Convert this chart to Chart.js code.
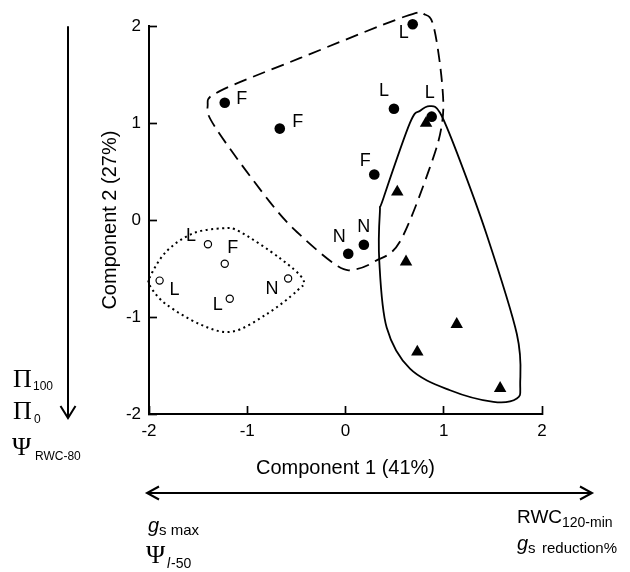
<!DOCTYPE html>
<html lang="en">
<head>
    <meta charset="UTF-8">
    <title>PCA - Component 1 vs Component 2</title>
    <script src="https://cdn.jsdelivr.net/npm/chart.js"></script>
    <style>
        body {
            margin: 0;
            background-color: white;
        }
        #pca {
            display: block;
        }
    </style>
</head>
<body>
    <canvas id="pca" width="630" height="572"></canvas>

    <script>
        // Filled circles (group 1)
        const filledX = [0.684, -1.229, -0.669, 0.493, 0.877, 0.293, 0.028, 0.187];
        const filledY = [2.02, 1.21, 0.944, 1.149, 1.067, 0.471, -0.347, -0.255];
        const filledLabels = ['L', 'F', 'F', 'L', 'L', 'F', 'N', 'N'];

        // Triangles (group 2, no labels)
        const triX = [0.82, 0.527, 0.616, 1.132, 0.731, 1.574];
        const triY = [1.0, 0.29, -0.43, -1.075, -1.36, -1.735];

        // Open circles (group 3)
        const openX = [-1.892, -1.4, -1.229, -1.178, -0.584];
        const openY = [-0.624, -0.249, -0.45, -0.811, -0.603];
        const openLabels = ['L', 'L', 'F', 'L', 'N'];

        // Axis ticks
        const xTicks = [-2, -1, 0, 1, 2];
        const yTicks = [-2, -1, 0, 1, 2];

        // Group outlines (data coordinates)
        const dashedOutlineX = [0.605, 0.809, 0.901, 0.983, 0.983, 0.86, 0.555, 0.30, 0.096, -0.077, -0.465, -0.771, -1.311, -1.403, -1.28, -0.465];
        const dashedOutlineY = [2.10, 2.12, 1.98, 1.41, 1.00, 0.546, -0.22, -0.425, -0.508, -0.477, -0.15, 0.188, 0.934, 1.18, 1.33, 1.67];
        const solidOutlineX = [0.86, 0.962, 1.133, 1.438, 1.744, 1.778, 1.744, 1.506, 1.064, 0.656, 0.419, 0.344, 0.35, 0.384, 0.656, 0.76];
        const solidOutlineY = [1.176, 1.108, 0.699, -0.153, -1.175, -1.687, -1.84, -1.875, -1.755, -1.533, -1.108, -0.426, 0.085, 0.221, 1.002, 1.128];
        const dottedOutlineX = [-1.994, -1.824, -1.552, -1.247, -1.076, -0.669, -0.431, -0.498, -0.804, -1.161, -1.484, -1.824, -1.977];
        const dottedOutlineY = [-0.597, -0.324, -0.137, -0.085, -0.119, -0.392, -0.613, -0.733, -0.971, -1.152, -1.073, -0.869, -0.699];

        // label placement (pixel offsets from each point)
        const filledLabelOffsets = [[-9, 9], [17, -4], [18, -7], [-10, -18], [-2, -24], [-9, -13], [-9, -17], [0, -18]];
        const openLabelOffsets = [[15, 9], [-17, -8], [8, -16], [-12, 6], [-16, 10]];

        const SANS = '"Liberation Sans", Arial, sans-serif';
        const SERIF = '"Liberation Serif", "Times New Roman", serif';

        function toPoints(xs, ys) {
            return xs.map((x, i) => ({ x: x, y: ys[i] }));
        }

        function closedCurve(ctx, pts) {
            const n = pts.length;
            ctx.beginPath();
            ctx.moveTo(pts[0].x, pts[0].y);
            for (let i = 0; i < n; i++) {
                const p0 = pts[(i - 1 + n) % n];
                const p1 = pts[i];
                const p2 = pts[(i + 1) % n];
                const p3 = pts[(i + 2) % n];
                ctx.bezierCurveTo(
                    p1.x + (p2.x - p0.x) / 6, p1.y + (p2.y - p0.y) / 6,
                    p2.x - (p3.x - p1.x) / 6, p2.y - (p3.y - p1.y) / 6,
                    p2.x, p2.y
                );
            }
            ctx.closePath();
            ctx.stroke();
        }

        // draws the three hull outlines through the chart scales
        const outlinePlugin = {
            id: 'outlines',
            beforeDatasetsDraw(chart) {
                const ctx = chart.ctx;
                const sx = chart.scales.x, sy = chart.scales.y;
                const px = (xs, ys) => xs.map((x, i) => ({ x: sx.getPixelForValue(x), y: sy.getPixelForValue(ys[i]) }));

                ctx.save();
                ctx.strokeStyle = '#000';
                ctx.lineWidth = 1.8;
                ctx.setLineDash([13, 7]);
                closedCurve(ctx, px(dashedOutlineX, dashedOutlineY));
                ctx.setLineDash([]);
                closedCurve(ctx, px(solidOutlineX, solidOutlineY));
                ctx.lineWidth = 2;
                ctx.setLineDash([2, 3.5]);
                closedCurve(ctx, px(dottedOutlineX, dottedOutlineY));
                ctx.restore();
            }
        };

        // letters next to the points
        const pointLabelPlugin = {
            id: 'pointLabels',
            afterDatasetsDraw(chart) {
                const ctx = chart.ctx;
                ctx.save();
                ctx.fillStyle = '#000';
                ctx.font = '18px ' + SANS;
                ctx.textAlign = 'center';
                ctx.textBaseline = 'middle';
                chart.data.datasets.forEach((ds, di) => {
                    if (!ds.pointLabels) return;
                    chart.getDatasetMeta(di).data.forEach((el, i) => {
                        const off = ds.labelOffsets[i];
                        ctx.fillText(ds.pointLabels[i], el.x + off[0], el.y + off[1]);
                    });
                });
                ctx.restore();
            }
        };

        function textRuns(ctx, runs) {
            runs.forEach(r => {
                ctx.font = r.font;
                ctx.fillText(r.t, r.x, r.y);
            });
        }

        function arrowHead(ctx, tx, ty, dx, dy, len, half) {
            // (dx, dy) unit direction the arrow points to
            ctx.beginPath();
            ctx.moveTo(tx - dx * len - dy * half, ty - dy * len + dx * half);
            ctx.lineTo(tx, ty);
            ctx.lineTo(tx - dx * len + dy * half, ty - dy * len - dx * half);
            ctx.stroke();
        }

        // variable arrows and their labels outside the plot
        const annotationPlugin = {
            id: 'annotations',
            afterDraw(chart) {
                const ctx = chart.ctx;
                const area = chart.chartArea;
                ctx.save();
                ctx.strokeStyle = '#000';
                ctx.fillStyle = '#000';
                ctx.lineWidth = 2;
                ctx.lineCap = 'butt';

                // vertical arrow (Component 2)
                ctx.beginPath();
                ctx.moveTo(68, area.top);
                ctx.lineTo(68, area.bottom + 4);
                ctx.stroke();
                arrowHead(ctx, 68, area.bottom + 4, 0, 1, 12, 7.5);

                // horizontal double arrow (Component 1)
                ctx.beginPath();
                ctx.moveTo(147, 493);
                ctx.lineTo(592, 493);
                ctx.stroke();
                arrowHead(ctx, 147, 493, -1, 0, 12, 6.5);
                arrowHead(ctx, 592, 493, 1, 0, 12, 6.5);

                ctx.textAlign = 'left';
                ctx.textBaseline = 'alphabetic';

                textRuns(ctx, [
                    { t: '\u03A0', font: '26px ' + SERIF, x: 13, y: 387 },
                    { t: '100', font: '12px ' + SANS, x: 33, y: 390 },
                    { t: '\u03A0', font: '26px ' + SERIF, x: 13, y: 419 },
                    { t: '0', font: '12px ' + SANS, x: 34, y: 423 },
                    { t: '\u03A8', font: '26px ' + SERIF, x: 12, y: 455 },
                    { t: 'RWC-80', font: '12px ' + SANS, x: 35, y: 460 },

                    { t: 'g', font: 'italic 20px ' + SANS, x: 148, y: 532 },
                    { t: 's max', font: '15px ' + SANS, x: 159, y: 535 },
                    { t: '\u03A8', font: '26px ' + SERIF, x: 146, y: 563 },
                    { t: 'l', font: 'italic 14px ' + SANS, x: 167, y: 568 },
                    { t: '-50', font: '14px ' + SANS, x: 171, y: 568 },

                    { t: 'RWC', font: '19px ' + SANS, x: 517, y: 523 },
                    { t: '120-min', font: '14px ' + SANS, x: 562, y: 527 },
                    { t: 'g', font: 'italic 20px ' + SANS, x: 517, y: 550 },
                    { t: 's', font: '15px ' + SANS, x: 528, y: 553 },
                    { t: 'reduction%', font: '15px ' + SANS, x: 542, y: 553 }
                ]);
                ctx.restore();
            }
        };

        const ctx = document.getElementById('pca').getContext('2d');

        new Chart(ctx, {
            type: 'scatter',
            data: {
                datasets: [
                    {
                        label: 'Group 1',
                        data: toPoints(filledX, filledY),
                        pointStyle: 'circle',
                        pointRadius: 5.3,
                        backgroundColor: '#000',
                        borderColor: '#000',
                        borderWidth: 0,
                        clip: false,
                        pointLabels: filledLabels,
                        labelOffsets: filledLabelOffsets
                    },
                    {
                        label: 'Group 2',
                        data: toPoints(triX, triY),
                        pointStyle: 'triangle',
                        pointRadius: 7.2,
                        backgroundColor: '#000',
                        borderColor: '#000',
                        borderWidth: 0,
                        clip: false
                    },
                    {
                        label: 'Group 3',
                        data: toPoints(openX, openY),
                        pointStyle: 'circle',
                        pointRadius: 3.6,
                        backgroundColor: '#fff',
                        borderColor: '#000',
                        borderWidth: 1.2,
                        clip: false,
                        pointLabels: openLabels,
                        labelOffsets: openLabelOffsets
                    }
                ]
            },
            options: {
                responsive: false,
                animation: false,
                layout: {
                    padding: { top: 22.7, right: 88, bottom: 0, left: 0 }
                },
                plugins: {
                    legend: { display: false },
                    tooltip: { enabled: false }
                },
                scales: {
                    x: {
                        type: 'linear',
                        min: -2,
                        max: 2,
                        afterBuildTicks: (s) => { s.ticks = xTicks.map(v => ({ value: v })); },
                        afterFit: (s) => { s.height = 572 - 414; },
                        ticks: {
                            color: '#000',
                            padding: 15,
                            font: { family: SANS, size: 17 }
                        },
                        grid: {
                            drawOnChartArea: false,
                            tickLength: -8,
                            tickWidth: 1.7,
                            tickColor: '#000'
                        },
                        border: { color: '#000', width: 2 },
                        title: {
                            display: true,
                            text: 'Component 1 (41%)',
                            color: '#000',
                            font: { family: SANS, size: 20 },
                            padding: { top: 0, bottom: 92 }
                        }
                    },
                    y: {
                        type: 'linear',
                        min: -2,
                        max: 2,
                        afterBuildTicks: (s) => { s.ticks = yTicks.map(v => ({ value: v })); },
                        afterFit: (s) => { s.width = 149; },
                        ticks: {
                            color: '#000',
                            padding: 16,
                            font: { family: SANS, size: 17 }
                        },
                        grid: {
                            drawOnChartArea: false,
                            tickLength: -8,
                            tickWidth: 1.7,
                            tickColor: '#000'
                        },
                        border: { color: '#000', width: 2 },
                        title: {
                            display: true,
                            text: 'Component 2 (27%)',
                            color: '#000',
                            font: { family: SANS, size: 20 },
                            padding: { top: 98, bottom: 0 }
                        }
                    }
                }
            },
            plugins: [outlinePlugin, pointLabelPlugin, annotationPlugin]
        });
    </script>
</body>
</html>
